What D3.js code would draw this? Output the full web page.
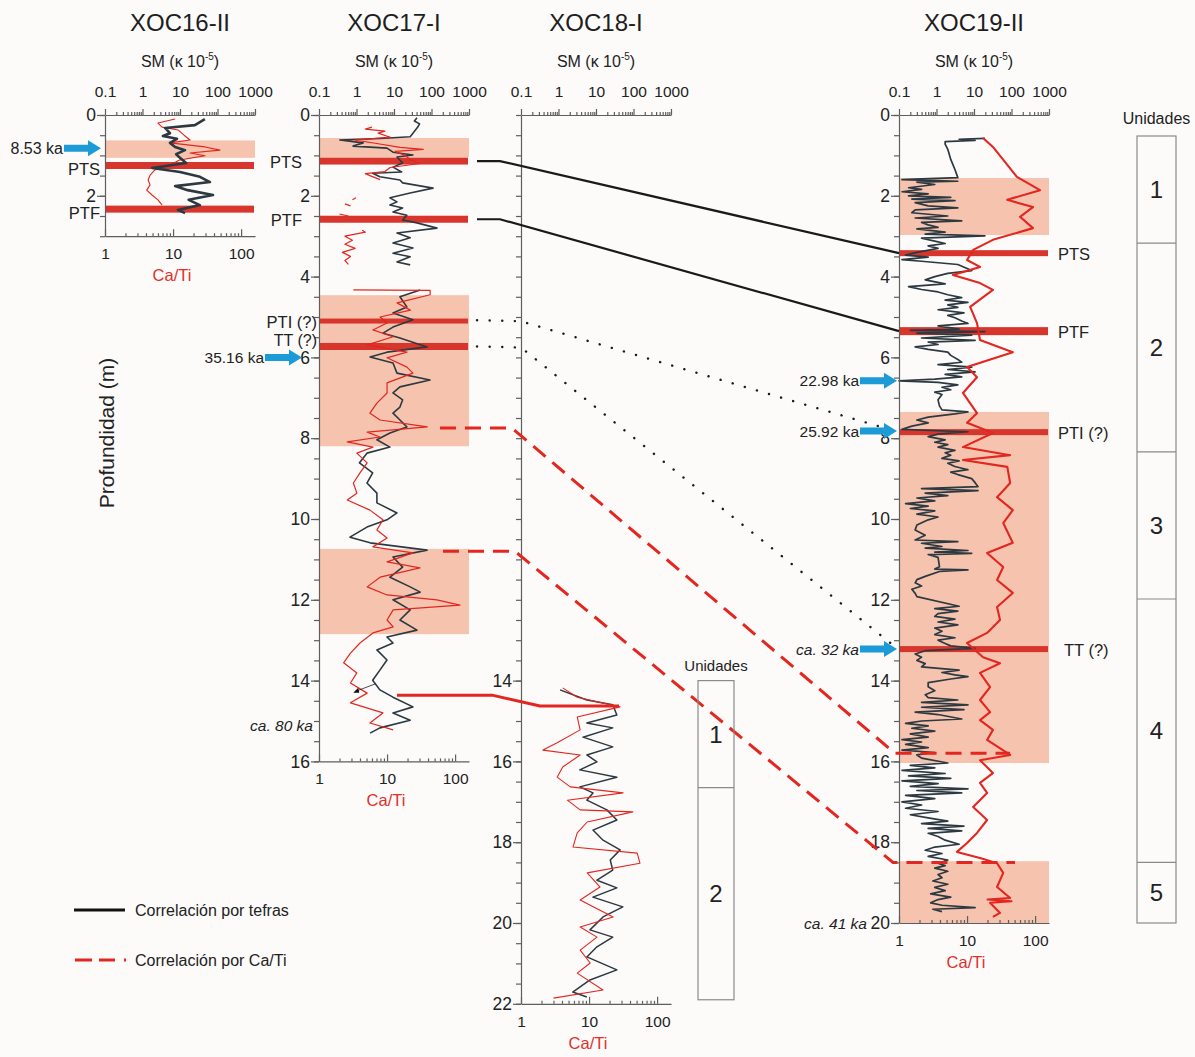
<!DOCTYPE html>
<html><head><meta charset="utf-8">
<script src="https://cdn.jsdelivr.net/npm/d3@7"></script>
<style>
body{margin:0;background:#fcfbfa;}
svg{display:block;font-family:'Liberation Sans',Arial,sans-serif;}
</style></head><body>
<svg id="c" width="1195" height="1057"></svg>
<script>
// ---------------- DATA ----------------
const cores = ['XOC16-II','XOC17-I','XOC18-I','XOC19-II'];
const smTicks = [0.1, 1, 10, 100, 1000];
const caTiTicks = [1, 10, 100];
const depthMax = {'XOC16-II':3, 'XOC17-I':16, 'XOC18-I':22, 'XOC19-II':20};
const depthLabels = {
  'XOC16-II':[0,2],
  'XOC17-I':[0,2,4,6,8,10,12,14,16],
  'XOC18-I':[14,16,18,20,22],
  'XOC19-II':[0,2,4,6,8,10,12,14,16,18,20]
};
// peach shaded intervals [top, bottom] (m)
const bands = {
  'XOC16-II':[[0.63,1.06]],
  'XOC17-I':[[0.57,1.04],[4.46,8.2],[10.74,12.85]],
  'XOC18-I':[],
  'XOC19-II':[[1.56,2.97],[7.35,16.04],[18.47,20.0]]
};
// tephra layers
const tephras = {
  'XOC16-II':[{name:'PTS',depth:1.25},{name:'PTF',depth:2.33}],
  'XOC17-I':[{name:'PTS',depth:1.14},{name:'PTF',depth:2.58},{name:'PTI (?)',depth:5.10},{name:'TT (?)',depth:5.73}],
  'XOC18-I':[],
  'XOC19-II':[{name:'PTS',depth:3.42},{name:'PTF',depth:5.35},{name:'PTI (?)',depth:7.85},{name:'TT (?)',depth:13.22}]
};
// ages (arrows)
const ages = [
  {core:'XOC16-II', depth:0.82, label:'8.53 ka', italic:false},
  {core:'XOC17-I', depth:6.0, label:'35.16 ka', italic:false},
  {core:'XOC19-II', depth:6.58, label:'22.98 ka', italic:false},
  {core:'XOC19-II', depth:7.82, label:'25.92 ka', italic:false},
  {core:'XOC19-II', depth:13.22, label:'ca. 32 ka', italic:true}
];
const baseAges = [
  {core:'XOC17-I', depth:15.1, label:'ca. 80 ka'},
  {core:'XOC19-II', depth:20.0, label:'ca. 41 ka'}
];
// units
const units19 = [0.52, 3.17, 8.34, 11.98, 18.5, 20.0];
const units19Names = ['1','2','3','4','5'];
const units18 = [14.0, 16.65, 21.9];
const units18Names = ['1','2'];

// SM (kappa 1e-5) and Ca/Ti, as [depth m, value]
const sm16 = [[0.10,46],[0.25,25],[0.32,4.0],[0.45,5.4],[0.52,3.5],[0.59,8.3],[0.69,5.4],[0.79,7.4],[0.87,13.6],[0.97,7.9],[1.06,10],[1.19,14.5],[1.31,1.8],[1.41,10],[1.53,34],[1.66,63],[1.76,7.4],[1.86,16],[1.98,76],[2.10,17],[2.23,34],[2.35,8.8],[2.43,13.6]];
const cati16 = [[0.10,10.7],[0.20,6.0],[0.30,6.9],[0.37,11.8],[0.50,14.5],[0.62,17.8],[0.69,9.0],[0.79,29.5],[0.87,49],[0.94,17.8],[1.01,29.5],[1.11,12.7],[1.24,9.0],[1.36,5.4],[1.49,4.6],[1.61,4.3],[1.73,4.6],[1.86,4.1],[1.98,4.9],[2.10,6.0],[2.23,6.9]];

const sm17 = [[0.07,41],[0.15,35],[0.22,48],[0.30,43],[0.45,32],[0.54,27],[0.58,4.2],[0.62,0.36],[0.69,1.5],[0.77,0.81],[0.82,6.5],[0.92,9.4],[0.99,32],[1.04,12],[1.19,17],[1.29,9.4],[1.41,16],[1.44,2.7],[1.53,4.2],[1.61,14.4],[1.68,17],[1.81,110],[1.93,27],[2.05,7.8],[2.15,12],[2.23,7.8],[2.30,17],[2.40,9.4],[2.48,22],[2.60,17],[2.67,41],[2.80,140],[2.92,12],[3.04,27],[3.17,9.4],[3.29,32],[3.42,9.4],[3.51,27],[3.64,12],[3.71,27],[3.9,null],
[4.33,50],[4.50,14.4],[4.75,22],[4.90,9.4],[5.07,32],[5.25,9.4],[5.40,5.1],[5.52,14.4],[5.74,76],[5.87,6.5],[5.99,2.3],[6.14,9.4],[6.39,12],[6.56,91],[6.73,14.4],[6.88,9.4],[7.05,17],[7.23,14.4],[7.38,9.4],[7.55,14.4],[7.72,22],[7.87,7.8],[8.04,3.5],[8.22,7.8],[8.37,1.9],[8.61,1.2],[8.86,2.7],[9.11,1.9],[9.36,3.5],[9.60,3.5],[9.85,12],[10.02,6.5],[10.20,1.9],[10.45,0.67],[10.59,2.3],[10.77,76],[10.94,9.4],[11.19,17],[11.44,7.8],[11.68,27],[11.81,50],[12.00,9.4],[12.25,27],[12.50,14.4],[12.75,41],[12.92,6.5],[13.07,9.4],[13.24,3.5],[13.49,6.5],[13.74,4.2],[13.99,2.7],[14.23,4.2],[14.41,9.4],[14.65,32],[14.80,9.4],[14.98,27],[15.17,4.2],[15.30,2.3]];
const cati17 = [[0.30,6.0],[0.35,4.8],[0.40,9.3],[0.45,7.4],[0.55,11.1],[0.62,3.4],[0.70,6.7],[0.80,15.5],[0.85,34],[0.90,13.1],[1.00,18.4],[1.10,21.8],[1.20,30.5],[1.30,11.1],[1.40,9.3],[1.45,4.8],[1.50,5.6],[1.60,7.9],[1.8,null],
[2.05,3.5],[2.10,3.1],[2.15,null],[2.20,2.4],[2.25,2.9],[2.3,null],[2.45,2.0],[2.50,2.7],[2.6,null],
[2.85,4.3],[2.90,4.8],[3.00,2.4],[3.10,3.1],[3.20,2.4],[3.30,3.4],[3.40,2.2],[3.50,2.9],[3.60,2.4],[3.70,2.7],[3.9,null],
[4.33,3.2],[4.34,43],[4.45,43],[4.65,14],[4.83,22],[5.00,7.9],[5.15,10],[5.32,6.2],[5.49,12.3],[5.69,5.1],[5.87,19.6],[6.01,10],[6.24,19.6],[6.39,24],[6.63,10],[6.88,10],[7.13,7.1],[7.38,5.6],[7.55,7.9],[7.72,39],[7.85,5.1],[7.97,7.9],[8.09,2.6],[8.22,6.2],[8.37,3.6],[8.61,5.1],[8.86,4.0],[9.11,3.2],[9.36,3.6],[9.53,2.6],[9.78,5.6],[10.02,8.7],[10.27,7.1],[10.47,10],[10.69,6.2],[10.84,24],[11.06,10],[11.21,30.5],[11.44,7.9],[11.68,5.1],[11.88,10],[12.00,54],[12.13,118],[12.25,12.3],[12.50,10],[12.67,12.3],[12.82,6.2],[13.07,4.0],[13.32,2.9],[13.56,2.3],[13.81,3.6],[14.06,2.9],[14.31,5.1],[14.55,2.9],[14.80,8.7],[15.05,5.6],[15.22,12.3]];

const sm18 = [[14.23,1.1],[14.48,5.7],[14.60,28],[14.85,36],[15.05,5.7],[15.17,28],[15.40,4.5],[15.64,28],[15.84,5.7],[16.01,10.6],[16.21,3.7],[16.39,36],[16.63,3.7],[16.78,8.3],[16.96,5.7],[17.20,19.5],[17.45,36],[17.70,8.3],[17.95,15.4],[18.19,44],[18.44,24],[18.69,28],[18.94,10.6],[19.13,36],[19.36,8.3],[19.60,52],[19.85,15.4],[20.17,6.9],[20.35,28],[20.59,10.6],[20.84,5.7],[21.16,36],[21.41,6.9],[21.71,2.4],[21.83,5.7]];
const cati18 = [[14.18,4.1],[14.41,6.7],[14.65,28.5],[14.90,6.7],[15.22,7.4],[15.54,3.4],[15.72,2.1],[15.84,7.4],[16.14,4.1],[16.39,3.4],[16.63,5.3],[16.78,31.6],[16.96,4.8],[17.20,7.4],[17.25,44],[17.50,9.4],[17.77,6.7],[18.12,5.8],[18.27,51],[18.52,56],[18.76,9.4],[19.11,14.5],[19.43,7.4],[19.60,11.5],[19.85,22.6],[20.10,7.4],[20.35,13.1],[20.67,7.4],[20.99,10.4],[21.24,6.7],[21.66,16],[21.86,3.0]];

const sm19 = [[0.58,19.6],[0.60,4.0],[0.63,10.7],[0.66,1.7],[0.72,1.7],[0.85,2.0],[1.1,2.4],[1.35,3.1],[1.55,3.7],[1.58,0.4],[1.60,0.12],[1.62,0.6],[1.64,3.7],[1.66,0.3],[1.72,0.9],[1.80,0.18],[1.84,0.4],[1.90,0.12],[1.95,0.6],[2.00,0.18],[2.04,2.4],[2.08,0.22],[2.12,3.1],[2.17,0.27],[2.25,0.6],[2.30,3.7],[2.35,0.27],[2.42,0.22],[2.50,2.0],[2.55,0.27],[2.62,4.7],[2.66,0.4],[2.72,0.6],[2.78,1.1],[2.82,0.3],[2.90,1.7],[2.95,0.5],[2.99,19.6],[3.05,0.4],[3.12,0.9],[3.18,1.7],[3.24,0.6],[3.30,1.1],[3.40,0.3],[3.47,0.15],[3.52,0.6],[3.58,0.12],[3.62,0.4],[3.70,3.7],[3.85,8.7],[3.92,2.0],[4.0,0.9],[4.08,0.5],[4.18,1.7],[4.25,0.18],[4.32,0.4],[4.38,1.1],[4.45,2.0],[4.52,4.7],[4.58,1.7],[4.64,6.9],[4.70,2.0],[4.76,3.7],[4.82,1.1],[4.90,5.4],[4.96,2.0],[5.02,3.1],[5.10,4.7],[5.16,6.9],[5.22,1.1],[5.30,4.0],[5.33,0.2],[5.36,19.6],[5.40,0.3],[5.45,8.7],[5.52,0.4],[5.58,10.7],[5.62,0.6],[5.68,1.1],[5.74,0.27],[5.80,0.6],[5.87,2.0],[5.95,2.4],[6.05,3.7],[6.12,4.7],[6.18,1.1],[6.24,8.7],[6.30,2.0],[6.36,10.7],[6.42,1.7],[6.48,4.7],[6.54,0.9],[6.58,0.1],[6.62,1.1],[6.68,3.7],[6.74,1.4],[6.80,2.4],[6.86,0.9],[6.92,1.4],[7.05,1.1],[7.20,1.2],[7.30,1.4],[7.35,6.9],[7.40,3.1],[7.48,0.6],[7.55,0.3],[7.62,0.6],[7.70,0.22],[7.78,0.12],[7.84,6.9],[7.90,1.1],[7.96,0.6],[8.04,1.7],[8.10,0.9],[8.16,2.0],[8.22,1.1],[8.30,3.1],[8.36,1.7],[8.42,2.4],[8.50,1.4],[8.56,4.0],[8.62,2.0],[8.70,3.1],[8.78,6.9],[8.84,2.4],[8.90,3.7],[9.00,8.7],[9.10,10.7],[9.20,12.8],[9.25,0.4],[9.30,12.8],[9.36,0.5],[9.42,2.0],[9.48,0.3],[9.55,0.9],[9.62,0.15],[9.68,0.6],[9.74,0.2],[9.80,0.9],[9.88,0.3],[9.95,1.1],
[10.02,0.6],[10.15,0.3],[10.27,0.27],[10.40,0.5],[10.52,0.27],[10.56,3.7],[10.60,0.4],[10.68,1.4],[10.72,0.5],[10.78,6.9],[10.82,0.9],[10.85,8.7],[10.88,0.6],[10.95,1.1],[11.18,1.2],[11.24,0.9],[11.26,6.9],[11.30,1.2],[11.42,0.5],[11.50,0.3],[11.58,0.27],[11.66,0.4],[11.74,0.22],[11.84,0.27],[11.92,0.3],[12.16,4.0],[12.22,0.9],[12.28,3.7],[12.34,1.1],[12.41,0.9],[12.48,3.1],[12.55,1.1],[12.62,3.7],[12.70,0.9],[12.78,1.4],[12.86,0.9],[12.94,3.1],[13.00,1.1],[13.08,1.7],[13.14,2.4],[13.20,10.7],[13.26,0.5],[13.34,0.27],[13.42,0.4],[13.50,0.3],[13.58,0.5],[13.66,0.4],[13.74,4.0],[13.80,1.4],[13.86,3.1],[13.90,6.9],[13.96,2.4],[14.05,0.6],[14.15,0.6],[14.25,0.9],[14.35,0.5],[14.42,0.6],[14.48,3.7],[14.54,0.4],[14.60,6.9],[14.66,0.4],[14.72,5.4],[14.78,0.27],[14.84,1.1],[14.95,4.7],[15.00,0.4],[15.06,0.15],[15.12,0.6],[15.18,0.22],[15.25,0.9],[15.32,0.2],[15.40,0.6],[15.46,0.12],[15.52,0.4],[15.58,0.15],[15.66,0.6],[15.72,0.12],[15.78,0.9],[15.84,0.3],[15.92,0.4],[16.04,2.0],[16.10,0.2],[16.16,0.9],[16.22,0.12],[16.30,1.7],[16.36,0.18],[16.42,2.4],[16.48,0.12],[16.55,1.1],[16.62,0.2],[16.68,6.9],[16.72,0.3],[16.78,4.7],[16.84,0.15],[16.92,0.9],[17.00,0.12],[17.08,0.4],[17.16,0.15],[17.24,1.1],[17.32,0.2],[17.40,0.6],[17.48,2.0],[17.54,0.4],[17.60,5.4],[17.66,0.6],[17.72,4.7],[17.78,0.6],[17.86,1.1],[17.95,1.7],[18.05,4.0],[18.12,0.9],[18.20,0.5],[18.28,1.4],[18.35,0.6],[18.44,2.0],[18.52,1.1],[18.58,1.7],[18.64,0.9],[18.72,2.0],[18.80,1.1],[18.88,1.4],[18.96,0.8],[19.04,2.0],[19.12,0.9],[19.20,1.7],[19.28,0.7],[19.36,2.4],[19.42,1.1],[19.50,0.7],[19.56,1.4],[19.62,10.7],[19.66,0.8],[19.72,1.4]];
const cati19 = [[0.57,17.2],[0.79,24],[1.53,54],[1.86,118],[2.10,39],[2.28,93],[2.52,60],[2.80,93],[3.09,24],[3.34,12.3],[3.59,10],[3.76,15.5],[3.96,6.2],[4.16,15.5],[4.33,24],[4.75,11.1],[5.15,14],[5.57,15.5],[5.87,47],[6.24,10],[6.49,14],[6.88,8.7],[7.38,14],[7.62,10],[7.87,24],[8.22,8.7],[8.42,43],[8.54,8.7],[8.71,39],[9.11,43],[9.46,27.6],[9.78,47],[10.10,34],[10.59,47],[10.84,19.7],[11.19,34],[11.51,27.6],[11.83,47],[12.18,27.6],[12.50,30.5],[12.82,19.7],[13.07,10],[13.42,17.2],[13.57,30.5],[13.81,15.5],[14.16,21.8],[14.48,15.5],[14.78,21.8],[14.98,15.5],[15.22,24],[15.47,19.7],[15.84,43],[15.97,15.5],[16.29,24],[16.53,15.5],[16.78,19.7],[17.13,12.3],[17.45,19.7],[17.77,14],[18.02,10],[18.24,7.1],[18.39,15.5],[18.52,27.6],[18.76,34],[19.11,27.6],[19.38,43],[19.42,20],[19.46,45],[19.50,21.8],[19.75,30.5],[19.85,24]];

const series = {
  'XOC16-II':{sm:sm16, cati:cati16},
  'XOC17-I':{sm:sm17, cati:cati17},
  'XOC18-I':{sm:sm18, cati:cati18},
  'XOC19-II':{sm:sm19, cati:cati19}
};

// correlations (depth in source core -> depth in target core)
const tephraLinks = [{name:'PTS', from:1.14, to:3.42},{name:'PTF', from:2.58, to:5.35}];
const tephraDotted = [{name:'PTI', from:5.08, to:7.85},{name:'TT', from:5.73, to:13.12}];
const caTiLinks = [{from:7.75, to:15.8},{from:10.8, to:18.5}];
const caTiLink1718 = {from:14.36, to:14.63};

// ---------------- LAYOUT / STYLE ----------------
const Y0 = 115, PXM = 40.4, PW = 150;
const y = d3.scaleLinear().domain([0,22]).range([Y0, Y0+22*PXM]);
const panelX = {'XOC16-II':105,'XOC17-I':319,'XOC18-I':521,'XOC19-II':899};
const smDomain = [0.1,1000], caDomain = [1,160];
const RED = '#e3261f', BLACK = '#2c3940', BAR = '#d8352c', PEACH = '#f6c3ae', BLUE = '#1d9bd6';
const lineW = {
  'XOC16-II':{sm:2.6, cati:1.1},
  'XOC17-I':{sm:1.6, cati:1.2},
  'XOC18-I':{sm:1.5, cati:1.1},
  'XOC19-II':{sm:1.7, cati:2.1}
};
const barH = {
  'XOC16-II':[7,7], 'XOC17-I':[7,7,5,7], 'XOC19-II':[6,8,6,6]
};
const svg = d3.select('#c');
svg.append('rect').attr('width',1195).attr('height',1057).attr('fill','#fcfbfa');

const scales = {};
cores.forEach(core=>{
  const x0 = panelX[core];
  const maxD = depthMax[core];
  const yp = y.copy().domain([0,maxD]).range([y(0), y(maxD)]);
  const sm = d3.scaleLog().domain(smDomain).range([x0, x0+PW]);
  const ca = d3.scaleLog().domain(caDomain).range([x0, x0+PW]);
  scales[core] = {sm, ca, yp, x0};
  const g = svg.append('g');

  g.selectAll('rect.band').data(bands[core]).join('rect')
    .attr('x', x0).attr('width', PW)
    .attr('y', d=>y(d[0])).attr('height', d=>y(d[1])-y(d[0]))
    .attr('fill', PEACH);

  g.selectAll('rect.bar').data(tephras[core]).join('rect')
    .attr('x', x0+1).attr('width', PW-2)
    .attr('y', (d,i)=>y(d.depth)-barH[core][i]/2).attr('height', (d,i)=>barH[core][i])
    .attr('fill', BAR);

  const lSM = d3.line().defined(d=>d[1]!=null).x(d=>sm(d[1])).y(d=>y(d[0]));
  const lCA = d3.line().defined(d=>d[1]!=null).x(d=>ca(d[1])).y(d=>y(d[0]));
  const drawSM = ()=>g.append('path').attr('d', lSM(series[core].sm)).attr('fill','none')
      .attr('stroke', BLACK).attr('stroke-width', lineW[core].sm).attr('stroke-linejoin','round');
  const drawCA = ()=>g.append('path').attr('d', lCA(series[core].cati)).attr('fill','none')
      .attr('stroke', RED).attr('stroke-width', lineW[core].cati).attr('stroke-linejoin','round');
  if (core==='XOC16-II') { drawCA(); drawSM(); } else { drawSM(); drawCA(); }

  const styleAxis = sel => {
    sel.selectAll('path,line').attr('stroke','#5e5e5e').attr('stroke-width',1.2);
    sel.selectAll('text').attr('fill','#222').attr('font-family',"'Liberation Sans',Arial,sans-serif");
  };
  const minorD = d3.range(0, maxD+0.001, 0.5);
  g.append('g').attr('transform',`translate(${x0},0)`)
    .call(d3.axisLeft(yp).tickValues(minorD).tickFormat('').tickSize(5).tickSizeOuter(0))
    .call(styleAxis);
  g.append('g').attr('transform',`translate(${x0},0)`)
    .call(d3.axisLeft(yp).tickValues(depthLabels[core]).tickFormat(d3.format('d')).tickSize(8).tickPadding(1).tickSizeOuter(0))
    .call(styleAxis)
    .call(s=>s.select('.domain').remove())
    .call(s=>s.selectAll('text').attr('font-size',17.5));
  const smMinor = [];
  [0.1,1,10,100].forEach(dec=>{ for(let k=2;k<=9;k++) smMinor.push(k*dec); });
  g.append('g').attr('transform',`translate(0,${Y0})`)
    .call(d3.axisTop(sm).tickValues(smMinor).tickFormat('').tickSize(3).tickSizeOuter(0))
    .call(styleAxis);
  g.append('g').attr('transform',`translate(0,${Y0})`)
    .call(d3.axisTop(sm).tickValues(smTicks).tickFormat(d=>d<1?'0.1':String(d)).tickSize(6).tickPadding(12).tickSizeOuter(0))
    .call(styleAxis)
    .call(s=>s.select('.domain').remove())
    .call(s=>s.selectAll('text').attr('font-size',15.5));
  const caMinor = [];
  [1,10].forEach(dec=>{ for(let k=2;k<=9;k++) caMinor.push(k*dec); });
  const yb = y(maxD);
  g.append('g').attr('transform',`translate(0,${yb})`)
    .call(d3.axisBottom(ca).tickValues(caMinor).tickFormat('').tickSizeInner(-3).tickSizeOuter(0))
    .call(styleAxis);
  g.append('g').attr('transform',`translate(0,${yb})`)
    .call(d3.axisBottom(ca).tickValues(caTiTicks).tickFormat(d3.format('d')).tickSizeInner(-7).tickPadding(12).tickSizeOuter(0))
    .call(styleAxis)
    .call(s=>s.select('.domain').remove())
    .call(s=>s.selectAll('text').attr('font-size',15.5));
  g.append('text').attr('x', x0+PW/2-8).attr('y', yb+45).attr('text-anchor','middle')
    .attr('font-size',16.5).attr('fill','#e0302a').text('Ca/Ti');

  g.append('text').attr('x', x0+PW/2).attr('y', 31).attr('text-anchor','middle')
    .attr('font-size',24).attr('fill','#1e1e1e').text(core);
  const smt = g.append('text').attr('x', x0+PW/2).attr('y', 67).attr('text-anchor','middle')
    .attr('font-size',16).attr('fill','#222');
  smt.append('tspan').text('SM (\u03ba 10');
  smt.append('tspan').attr('font-size',10).attr('dy',-7).text('-5');
  smt.append('tspan').attr('dy',7).text(')');
});

// tephra labels
const labelPos = {
  'XOC16-II': t => ({x: panelX['XOC16-II']-5, dy:4, anchor:'end', fs:16.5}),
  'XOC17-I': t => ({x: panelX['XOC17-I'] - (t.name.length>3 ? 2 : 17), dy:(t.name.startsWith('TT')?-6:1), anchor:'end', fs:(t.name.startsWith('TT')?16:16.5)}),
  'XOC19-II': t => ({x: panelX['XOC19-II'] + PW + (t.name.startsWith('TT') ? 15 : 9), dy:1, anchor:'start', fs:16.5})
};
['XOC16-II','XOC17-I','XOC19-II'].forEach(core=>{
  svg.append('g').selectAll('text').data(tephras[core]).join('text')
    .attr('x', d=>labelPos[core](d).x).attr('y', d=>y(d.depth)+labelPos[core](d).dy)
    .attr('dy','0.36em').attr('text-anchor', d=>labelPos[core](d).anchor)
    .attr('font-size', d=>labelPos[core](d).fs).attr('fill','#222').text(d=>d.name);
});

// correlation lines
const x17end = panelX['XOC17-I']+PW, x18 = panelX['XOC18-I'], x19 = panelX['XOC19-II'];
const lg = d3.line();
tephraLinks.forEach(l=>{
  svg.append('path').attr('d', lg([[x17end+8,y(l.from)],[x17end+31,y(l.from)],[x19,y(l.to)]]))
    .attr('fill','none').attr('stroke','#1a1a1a').attr('stroke-width',2.2);
});
tephraDotted.forEach((l,i)=>{
  svg.append('path').attr('d', lg([[x17end+8,y(l.from)],[x18,y(l.from)+1],[x19-(i?6:0),y(l.to)]]))
    .attr('fill','none').attr('stroke','#1a1a1a').attr('stroke-width',2.4)
    .attr('stroke-linecap','round').attr('stroke-dasharray','0.1 12.5');
});
caTiLinks.forEach((l,i)=>{
  svg.append('path').attr('d', lg([[x17end-29+i*3,y(l.from)],[x17end+43+i*3,y(l.from)],[x19-4-i*2,y(l.to)],[x19+111+i*5,y(l.to)]]))
    .attr('fill','none').attr('stroke',RED).attr('stroke-width',3)
    .attr('stroke-dasharray','16 9');
});
svg.append('path').attr('d', lg([[panelX['XOC17-I']+78,y(caTiLink1718.from)],[x18-29,y(caTiLink1718.from)],[x18+19,y(caTiLink1718.to)],[x18+98,y(caTiLink1718.to)]]))
  .attr('fill','none').attr('stroke',RED).attr('stroke-width',3).attr('stroke-linejoin','round');

// small black arrow in XOC17
{
  const s = scales['XOC17-I'];
  svg.append('path').attr('d', lg([[s.sm(3.2), y(14.08)],[s.sm(0.92), y(14.27)]]))
    .attr('stroke','#222').attr('stroke-width',0.8).attr('fill','none');
  const tx = s.sm(0.82), ty = y(14.3);
  svg.append('path').attr('d', `M${tx},${ty} l5,-5 l1,5 z`).attr('fill','#111');
}

// age arrows
const arrowTip = {'XOC16-II':-4, 'XOC17-I':-17, 'XOC19-II':-2};
const arrow = (tx,ty)=>`M${tx},${ty} L${tx-13},${ty-8} L${tx-13},${ty-3.5} L${tx-37},${ty-3.5} L${tx-37},${ty+3.5} L${tx-13},${ty+3.5} L${tx-13},${ty+8} Z`;
ages.forEach(a=>{
  const tx = panelX[a.core]+arrowTip[a.core], ty = y(a.depth);
  svg.append('path').attr('d', arrow(tx,ty)).attr('fill',BLUE);
  svg.append('text').attr('x', tx-38).attr('y', ty).attr('dy','0.36em')
    .attr('text-anchor','end').attr('font-size',a.core==='XOC16-II'?16:15.5).attr('fill','#222')
    .attr('font-style', a.italic?'italic':'normal').text(a.label);
});
baseAges.forEach(a=>{
  svg.append('text').attr('x', panelX[a.core]-(a.core==='XOC17-I'?6:32)).attr('y', y(a.depth)).attr('dy','0.36em')
    .attr('text-anchor','end').attr('font-size',15.5).attr('font-style','italic').attr('fill','#222').text(a.label);
});

// units columns
function unitsCol(bounds, names, x, w, fs, title, ty, tfs){
  const g = svg.append('g');
  g.append('rect').attr('x',x).attr('y',y(bounds[0])).attr('width',w)
    .attr('height',y(bounds[bounds.length-1])-y(bounds[0]))
    .attr('fill','none').attr('stroke','#8a8a8a').attr('stroke-width',1.2);
  g.selectAll('line').data(bounds.slice(1,-1)).join('line')
    .attr('x1',x).attr('x2',x+w).attr('y1',d=>y(d)).attr('y2',d=>y(d))
    .attr('stroke','#8a8a8a').attr('stroke-width',1.2);
  g.selectAll('text.u').data(names).join('text')
    .attr('x',x+w/2).attr('y',(d,i)=>(y(bounds[i])+y(bounds[i+1]))/2).attr('dy','0.36em')
    .attr('text-anchor','middle').attr('font-size',fs).attr('fill','#222').text(d=>d);
  g.append('text').attr('x',x+w/2).attr('y',ty).attr('text-anchor','middle')
    .attr('font-size',tfs).attr('fill','#222').text(title);
}
unitsCol(units19, units19Names, 1137, 39, 24, 'Unidades', 124, 16);
unitsCol(units18, units18Names, 698, 36, 24, 'Unidades', 671, 15);

// depth label
svg.append('text').attr('transform','translate(114,433) rotate(-90)').attr('text-anchor','middle')
  .attr('font-size',21).attr('fill','#222').text('Profundidad (m)');

// legend
svg.append('line').attr('x1',74).attr('x2',125).attr('y1',910).attr('y2',910).attr('stroke','#111').attr('stroke-width',3);
svg.append('text').attr('x',135).attr('y',910).attr('dy','0.36em').attr('font-size',16).attr('fill','#222').text('Correlación por tefras');
svg.append('line').attr('x1',75).attr('x2',128).attr('y1',960).attr('y2',960).attr('stroke',RED).attr('stroke-width',3).attr('stroke-dasharray','17 7 16 9 2 99');
svg.append('text').attr('x',135).attr('y',960).attr('dy','0.36em').attr('font-size',16).attr('fill','#222').text('Correlación por Ca/Ti');
</script>
</body></html>
